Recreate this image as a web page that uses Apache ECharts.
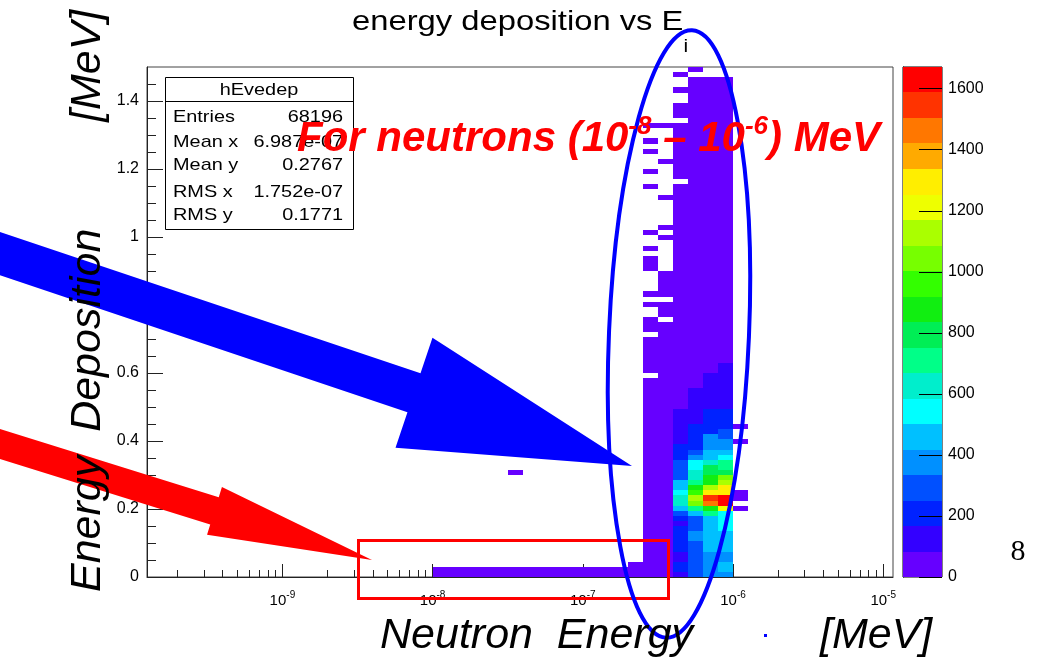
<!DOCTYPE html>
<html>
<head>
<meta charset="utf-8">
<title>energy deposition vs E_i</title>
<script src="https://cdn.jsdelivr.net/npm/echarts@6.0.0/dist/echarts.min.js"></script>
<style>
  html, body { margin: 0; padding: 0; background: #ffffff; }
  #chart { width: 1039px; height: 661px; }
</style>
</head>
<body>
<div id="chart"></div>
<script>
// ---- hEvedep: energy deposition vs incident neutron energy ----
// x bins are 0.1 decade wide in log10(E / MeV); y bins are 0.015 MeV tall.
const X_BIN_WIDTH = 0.1;
const Y_BIN_WIDTH = 0.015;

// low-energy tail (1e-8 ... 10^-6.7 MeV): counts in the two lowest y bins
const tailBinLow = [-8.0, -7.9, -7.8, -7.7, -7.6, -7.5, -7.4, -7.3, -7.2, -7.1, -7.0, -6.9, -6.8];
const tailRow0 = [38, 42, 35, 40, 44, 37, 41, 39, 43, 46, 40, 45, 48];
const tailRow1 = [12, 10, 14, 9, 11, 13, 10, 12, 15, 11, 14, 13, 16];

// isolated entry: [x bin low edge, y bin index, count]
const strayCells = [[-7.5, 20, 1]];

// columns near 1e-6 MeV: counts per y bin, starting at the 0 MeV bin
const colM67 = [52, 31, 14];
const colM66 = [
  62, 55, 58, 51, 53, 47, 49, 44, 46, 41, 43, 38, 40, 36, 37, 33, 35, 31, 32, 28,
  30, 27, 26, 24, 25, 22, 23, 20, 21, 18, 19, 17, 16, 15, 16, 13, 14, 12, 11, 0,
  9, 10, 8, 9, 7, 8, 6, 0, 6, 5, 5, 0, 0, 4, 0, 4, 0, 0, 0, 0,
  3, 3, 2, 0, 2, 0, 0, 2, 0, 0, 0, 0, 0, 0, 0, 0, 1, 0, 0, 1,
  0, 0, 0, 1, 0, 1, 0, 0, 1
];
const colM65 = [
  72, 68, 70, 66, 64, 61, 63, 58, 60, 56, 57, 53, 55, 51, 50, 48, 49, 46, 45, 43,
  44, 41, 40, 38, 39, 36, 35, 34, 33, 31, 32, 30, 29, 27, 28, 26, 25, 24, 23, 22,
  21, 20, 19, 19, 18, 17, 16, 15, 15, 14, 0, 13, 12, 12, 0, 11, 10, 9, 9, 8,
  0, 0, 0, 0, 0, 0, 3, 0, 3, 0, 0, 0, 0, 0, 2, 0, 0, 0, 0, 0,
  0, 1, 0, 0, 0, 0, 0, 0, 1
];
const colM64 = [
  140, 205, 220, 160, 150, 215, 230, 225, 240, 212, 155, 235, 300, 470, 640, 660, 560, 480, 455, 320,
  300, 285, 270, 240, 215, 195, 160, 150, 140, 120, 110, 100, 90, 80, 76, 78, 73, 71, 74, 69,
  67, 65, 66, 62, 60, 61, 58, 56, 55, 53, 54, 50, 49, 47, 48, 45, 44, 42, 41, 40,
  38, 37, 36, 34, 35, 32, 31, 30, 28, 29, 27, 26, 25, 23, 24, 22, 21, 0, 19, 18,
  17, 16, 14, 13, 12, 10, 9, 5, 4, 0, 3, 3, 2, 0, 0, 2, 0, 0, 1
];
const colM63 = [
  310, 320, 305, 300, 315, 325, 300, 380, 395, 330, 320, 310, 470, 720, 1050, 1140, 980, 890, 730, 650,
  630, 560, 545, 390, 300, 240, 230, 215, 200, 180, 160, 150, 140, 130, 110, 100, 90, 82, 80, 79,
  77, 78, 75, 74, 72, 73, 70, 69, 67, 68, 66, 64, 65, 63, 61, 62, 60, 59, 57, 58,
  56, 55, 54, 52, 53, 51, 50, 49, 48, 46, 47, 45, 44, 43, 41, 42, 40, 39, 38, 37,
  36, 35, 34, 33, 32, 31, 30, 29, 28, 27, 26, 25, 24, 23, 22, 21, 20, 18, 0, 2
];
const colM62 = [
  370, 395, 380, 400, 385, 470, 480, 465, 490, 475, 460, 485, 720, 890, 1460, 1545, 1300, 1140, 880, 860,
  800, 780, 640, 470, 455, 390, 370, 350, 240, 230, 215, 200, 180, 160, 140, 130, 120, 105, 95, 88,
  81, 79, 80, 77, 76, 74, 75, 72, 71, 69, 70, 67, 66, 65, 63, 64, 61, 60, 58, 59,
  56, 55, 54, 53, 51, 52, 49, 48, 47, 46, 44, 45, 42, 41, 40, 39, 38, 36, 37, 35,
  34, 33, 31, 32, 30, 29, 28, 27, 26, 25, 24, 23, 22, 21, 20, 19, 18, 17
];
const colM61 = [
  380, 470, 490, 395, 400, 480, 495, 470, 460, 560, 545, 575, 550, 1220, 1670, 1620, 1310, 1280, 1140, 1060,
  800, 720, 700, 540, 450, 395, 360, 310, 290, 240, 225, 205, 185, 160, 150, 140, 130, 120, 110, 100,
  92, 86, 80, 78, 79, 76, 74, 75, 72, 70, 71, 68, 67, 65, 66, 63, 62, 60, 61, 58,
  57, 55, 56, 53, 52, 50, 51, 48, 47, 46, 44, 45, 43, 41, 40, 39, 38, 37, 35, 36,
  34, 33, 32, 30, 31, 29, 28, 27, 26, 25, 24, 23, 22, 21, 20, 19, 18, 17
];
const colM60 = [
  0, 0, 0, 0, 0, 0, 0, 0, 0, 0, 0, 0, 0, 2, 0, 3, 2, 0, 0, 0,
  0, 0, 0, 0, 0, 0, 1, 0, 0, 1
];
const columnLow = [-6.7, -6.6, -6.5, -6.4, -6.3, -6.2, -6.1, -6.0];
const columnCounts = [colM67, colM66, colM65, colM64, colM63, colM62, colM61, colM60];

// axis tick labels
const xMajorTicks = [-9, -8, -7, -6, -5];
const yMajorTicks = [0, 0.2, 0.4, 0.6, 0.8, 1, 1.2, 1.4];
const zMajorTicks = [0, 200, 400, 600, 800, 1000, 1200, 1400, 1600];

// stats box
const statsTitle = 'hEvedep';
const statsNames = ['Entries', 'Mean x', 'Mean y', 'RMS x', 'RMS y'];
const statsValues = ['68196', '6.987e-07', '0.2767', '1.752e-07', '0.1771'];

// 20-level colour palette, lowest level first
const PALETTE = ['#6600ff', '#3300ff', '#0022ff', '#0050ff', '#0090ff', '#00c0ff', '#00ffff', '#00eecc',
  '#00ff88', '#00ee55', '#11ee11', '#33ff00', '#77ff00', '#aaff00', '#eeff00', '#ffee00',
  '#ffaa00', '#ff7700', '#ff3300', '#ff0000'];

// ---- build cell list [xLow, xHigh, yLow, yHigh, count] ----
const cells = [];
function addCell(xLo, k, c) {
  if (c > 0) cells.push([xLo, xLo + X_BIN_WIDTH, k * Y_BIN_WIDTH, (k + 1) * Y_BIN_WIDTH, c]);
}
tailBinLow.forEach((x, i) => { addCell(x, 0, tailRow0[i]); addCell(x, 1, tailRow1[i]); });
strayCells.forEach(s => addCell(s[0], s[1], s[2]));
columnLow.forEach((x, i) => columnCounts[i].forEach((c, k) => addCell(x, k, c)));

const ZMAX = Math.max(...cells.map(c => c[4]));
const NLEV = PALETTE.length;
const levelOf = v => Math.min(NLEV - 1, Math.floor(v / ZMAX * NLEV));
const colorBands = PALETTE.map((col, i) => [i * ZMAX / NLEV, (i + 1) * ZMAX / NLEV, i]);

// axis ranges (log10 MeV on x)
const XMIN = -9.9015, XMAX = -4.9348;
const xMinorTicks = [];
for (let n = -10; n <= -5; n++) {
  for (let m = 2; m <= 9; m++) {
    const v = n + Math.log10(m);
    if (v > XMIN && v < XMAX) xMinorTicks.push(v);
  }
}
const yMinorTicks = [];
for (let i = 1; i < 30; i++) if (i % 4 !== 0) yMinorTicks.push(i * 0.05);

const FONT = '"Liberation Sans", Arial, Helvetica, sans-serif';
const AX = '#222';
const STRETCH = 1.17; // horizontal stretch of the title and stats-box lettering

function arrowPoints(x0, y0, x1, y1, shaftHalf, headHalf, headLen) {
  const dx = x1 - x0, dy = y1 - y0, L = Math.hypot(dx, dy);
  const ux = dx / L, uy = dy / L, nx = -uy, ny = ux;
  const bx = x1 - ux * headLen, by = y1 - uy * headLen;
  return [
    [x0 + nx * shaftHalf, y0 + ny * shaftHalf],
    [bx + nx * shaftHalf, by + ny * shaftHalf],
    [bx + nx * headHalf, by + ny * headHalf],
    [x1, y1],
    [bx - nx * headHalf, by - ny * headHalf],
    [bx - nx * shaftHalf, by - ny * shaftHalf],
    [x0 - nx * shaftHalf, y0 - ny * shaftHalf]
  ];
}

// pixel-snapped rectangle between two data corners
function cellRect(p0, p1, col) {
  const x0 = Math.round(p0[0]), y0 = Math.round(p0[1]);
  const x1 = Math.round(p1[0]), y1 = Math.round(p1[1]);
  return { type: 'rect', shape: { x: x0, y: y0, width: x1 - x0, height: y1 - y0 },
    style: { fill: col } };
}

const chart = echarts.init(document.getElementById('chart'), null, { renderer: 'canvas' });

const statsElements = [
  { type: 'rect', z: 50, shape: { x: 165.5, y: 77.5, width: 188, height: 152 },
    style: { fill: '#fff', stroke: '#000', lineWidth: 1 } },
  { type: 'line', z: 51, shape: { x1: 165.5, y1: 101.5, x2: 353.5, y2: 101.5 },
    style: { stroke: '#000', lineWidth: 1 } },
  { type: 'text', z: 51, x: 259, y: 90, scaleX: STRETCH,
    style: { text: statsTitle, font: '17px ' + FONT, fill: '#000', align: 'center', verticalAlign: 'middle' } }
];
const statsRowY = [117, 142, 165, 192, 215];
statsNames.forEach((name, i) => {
  statsElements.push({ type: 'text', z: 51, x: 173, y: statsRowY[i], scaleX: STRETCH,
    style: { text: name, font: '17px ' + FONT, fill: '#000', align: 'left', verticalAlign: 'middle' } });
  statsElements.push({ type: 'text', z: 51, x: 343, y: statsRowY[i], scaleX: STRETCH,
    style: { text: statsValues[i], font: '17px ' + FONT, fill: '#000', align: 'right', verticalAlign: 'middle' } });
});

const option = {
  animation: false,
  backgroundColor: '#ffffff',
  grid: [
    { left: 147, top: 67, width: 746, height: 510, show: true, borderColor: '#444', borderWidth: 1,
      backgroundColor: 'transparent' },
    { left: 903, top: 67, width: 39, height: 510, show: true, borderColor: '#000', borderWidth: 1,
      backgroundColor: 'transparent' }
  ],
  xAxis: [
    { gridIndex: 0, type: 'value', min: XMIN, max: XMAX, position: 'bottom',
      axisLine: { show: true, lineStyle: { color: AX, width: 1 } },
      axisTick: { show: true, inside: true, length: 13, customValues: xMajorTicks, lineStyle: { color: AX } },
      axisLabel: { show: true, customValues: xMajorTicks, margin: 13,
        formatter: v => '{b|10}{s|' + Math.round(v) + '}',
        rich: {
          b: { fontFamily: FONT, fontSize: 15, color: '#000', lineHeight: 18, verticalAlign: 'bottom' },
          s: { fontFamily: FONT, fontSize: 10, color: '#000', lineHeight: 18, verticalAlign: 'top' }
        } },
      splitLine: { show: false } },
    { gridIndex: 0, type: 'value', min: XMIN, max: XMAX, position: 'bottom',
      axisLine: { show: false },
      axisTick: { show: true, inside: true, length: 7, customValues: xMinorTicks, lineStyle: { color: AX } },
      axisLabel: { show: false }, splitLine: { show: false } },
    { gridIndex: 1, type: 'value', min: 0, max: 1, show: false }
  ],
  yAxis: [
    { gridIndex: 0, type: 'value', min: 0, max: 1.5, position: 'left',
      axisLine: { show: true, lineStyle: { color: AX, width: 1 } },
      axisTick: { show: true, inside: true, length: 16, customValues: yMajorTicks, lineStyle: { color: AX } },
      axisLabel: { show: true, customValues: yMajorTicks, margin: 8,
        fontFamily: FONT, fontSize: 16, color: '#000' },
      splitLine: { show: false } },
    { gridIndex: 0, type: 'value', min: 0, max: 1.5, position: 'left',
      axisLine: { show: false },
      axisTick: { show: true, inside: true, length: 9, customValues: yMinorTicks, lineStyle: { color: AX } },
      axisLabel: { show: false }, splitLine: { show: false } },
    { gridIndex: 1, type: 'value', min: 0, max: ZMAX, position: 'right',
      axisLine: { show: true, lineStyle: { color: '#000', width: 1 } },
      axisTick: { show: false },
      axisLabel: { show: true, customValues: zMajorTicks, margin: 6, formatter: v => String(v),
        fontFamily: FONT, fontSize: 16, color: '#000' },
      splitLine: { show: false } }
  ],
  series: [
    { type: 'custom', name: 'hEvedep', xAxisIndex: 0, yAxisIndex: 0, clip: true,
      encode: { x: [0, 1], y: [2, 3] },
      data: cells,
      renderItem(params, api) {
        const p0 = api.coord([api.value(0), api.value(3)]);
        const p1 = api.coord([api.value(1), api.value(2)]);
        return cellRect(p0, p1, PALETTE[levelOf(api.value(4))]);
      } },
    { type: 'custom', name: 'palette', xAxisIndex: 2, yAxisIndex: 2, z: 1,
      encode: { y: [0, 1] },
      data: colorBands,
      renderItem(params, api) {
        const p0 = api.coord([0, api.value(1)]);
        const p1 = api.coord([1, api.value(0)]);
        return cellRect(p0, p1, PALETTE[api.value(2)]);
      } },
    // palette axis ticks, drawn inward from the right edge of the colour bar
    { type: 'custom', name: 'paletteTicks', xAxisIndex: 2, yAxisIndex: 2, z: 3, silent: true,
      encode: { y: 0 },
      data: zMajorTicks.map(v => [v]),
      renderItem(params, api) {
        const p = api.coord([1, api.value(0)]);
        const y = Math.round(p[1]) + 0.5;
        return { type: 'line', shape: { x1: p[0] - 23, y1: y, x2: p[0], y2: y },
          style: { stroke: '#000', lineWidth: 1 } };
      } }
  ],
  graphic: { elements: [
    // title
    { type: 'text', z: 60, x: 352, y: 8, scaleX: STRETCH,
      style: { text: '{t|energy deposition vs E}{i|i}', fill: '#000',
        rich: {
          t: { fontFamily: FONT, fontSize: 28, lineHeight: 32, verticalAlign: 'top', fill: '#000' },
          i: { fontFamily: FONT, fontSize: 18, lineHeight: 48, verticalAlign: 'bottom', fill: '#000' }
        } } },
    ...statsElements,
    // arrows
    { type: 'polygon', z: 80, shape: { points: arrowPoints(-30, 243.5, 632, 466, 20.5, 58, 230) },
      style: { fill: '#0000ff' } },
    { type: 'polygon', z: 80, shape: { points: arrowPoints(-30, 434.6, 372, 560, 14.3, 25, 165) },
      style: { fill: '#ff0000' } },
    // highlighted region
    { type: 'rect', z: 85, shape: { x: 358.5, y: 540.5, width: 310, height: 58 },
      style: { fill: 'none', stroke: '#ff0000', lineWidth: 3 } },
    { type: 'ellipse', z: 85, x: 679, y: 334, rotation: -0.043,
      shape: { cx: 0, cy: 0, rx: 70, ry: 304 },
      style: { fill: 'none', stroke: '#0000ff', lineWidth: 4 } },
    { type: 'rect', z: 85, shape: { x: 764, y: 634, width: 3, height: 3 }, style: { fill: '#0000ff' } },
    // red caption
    { type: 'text', z: 90, x: 297, y: 114,
      style: { text: '{t|For neutrons (10}{s|-8}{t| \u2013 10}{s|-6}{t|) MeV}',
        rich: {
          t: { fontFamily: FONT, fontSize: 42, fontWeight: 'bold', fontStyle: 'italic', fill: '#ff0000',
               lineHeight: 46, verticalAlign: 'bottom' },
          s: { fontFamily: FONT, fontSize: 26, fontWeight: 'bold', fontStyle: 'italic', fill: '#ff0000',
               lineHeight: 46, verticalAlign: 'top' }
        } } },
    // axis titles
    { type: 'text', z: 95, x: 88, y: 592, rotation: Math.PI / 2,
      style: { text: 'Energy  Deposition', font: 'italic 43px ' + FONT, fill: '#000',
        align: 'left', verticalAlign: 'middle' } },
    { type: 'text', z: 95, x: 88, y: 122, rotation: Math.PI / 2,
      style: { text: '[MeV]', font: 'italic 43px ' + FONT, fill: '#000',
        align: 'left', verticalAlign: 'middle' } },
    { type: 'text', z: 95, x: 380, y: 636,
      style: { text: 'Neutron  Energy', font: 'italic 43px ' + FONT, fill: '#000',
        align: 'left', verticalAlign: 'middle' } },
    { type: 'text', z: 95, x: 820, y: 636,
      style: { text: '[MeV]', font: 'italic 43px ' + FONT, fill: '#000',
        align: 'left', verticalAlign: 'middle' } },
    // page number
    { type: 'text', z: 95, x: 1018, y: 552,
      style: { text: '8', font: '30px "Liberation Serif", "Times New Roman", serif', fill: '#000',
        align: 'center', verticalAlign: 'middle' } }
  ] }
};

chart.setOption(option);
</script>
</body>
</html>
